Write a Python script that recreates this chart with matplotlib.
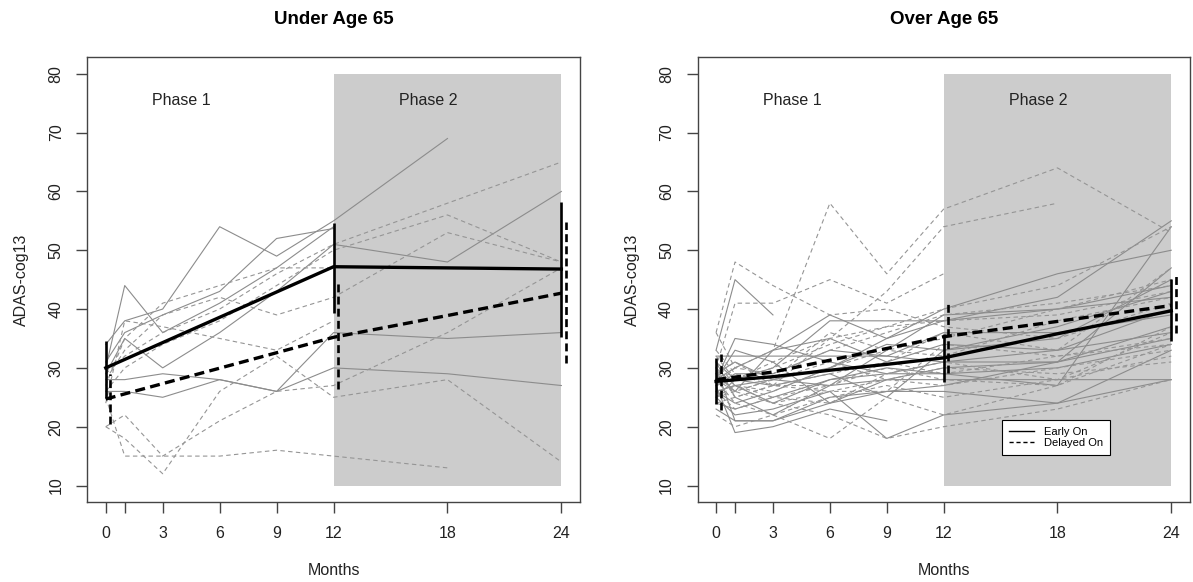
import numpy as np
import matplotlib.pyplot as plt
from matplotlib.lines import Line2D
from matplotlib.patches import Rectangle

plt.rcParams['font.family'] = ['Liberation Sans', 'DejaVu Sans']

nan = np.nan
months = [0, 1, 3, 6, 9, 12, 18, 24]
tick_labels = ['0', '', '3', '6', '9', '12', '18', '24']

# individual subjects, one row per subject, values at each visit in `months`
under_early = [
    [30, 44, 36, 41, 47, 54, nan, nan],
    [34, 38, 40, 54, 49, 55, 69, nan],
    [31, 36, 39, 43, 52, 53.7, nan, nan],
    [29, 35, 30, 36, 43, 51, 48, 60],
    [26, 26, 25, 28, 26, 30, 29, 27],
    [28, 28, 29, 28, 26, 36, 35, 36],
]
under_delayed = [
    [25, 15, 15, 15, 16, 15, 13, nan],
    [20, 22, 15, 21, 26, 27, 36, 47],
    [20, 18, 12, 26, 32, 25, 28, 14],
    [27, 35, 41, 44, 47, 47, nan, nan],
    [28, 33, 39, 42, 39, 42, 53, 48],
    [26, 30, 34, 38, 44, 50, 56, 48],
    [29, 32, 36, 40, 46, 51, 58, 65],
    [24, 38, 37, 35, 33, 38, nan, nan],
]
over_early = [
    [33, 45, 39, nan, nan, nan, nan, nan],
    [28, 35, 34, 31, 29, 29, 27, 54],
    [32, 32, 32, 32, 32, 31, 31, 35],
    [30, 21, 21, 24, 28, 28, 28, 28],
    [27, 19, 20, 23, 21, nan, nan, nan],
    [25, 22, 23, 26, 18, 22, 24, 28],
    [29, 26, 33, 39, 35, 38, 42, 55],
    [31, 28, 30, 38, 38, 38, 40, 44],
    [26, 24, 26, 30, 35, 40, 46, 50],
    [28, 30, 33, 35, 31, 34, 33, 40],
    [24, 23, 25, 28, 30, 29, 30, 34],
    [30, 27, 28, 27, 28, 30, 31, 47],
    [27, 29, 29, 33, 32, 36, 36, 39],
    [23, 21, 21, 25, 26, 26, 24, 33],
    [29, 31, 28, 30, 34, 33, 37, 43],
    [26, 27, 24, 28, 29, 31, 33, 36],
    [31, 25, 22, 27, 33, 39, 40, 42],
    [28, 33, 31, 24, 26, 27, 31, 37],
    [25, 28, 27, 29, 25, 33, 35, 45],
]
over_delayed = [
    [36, 30, 33, 58, 46, 57, 64, 53],
    [33, 29, 27, 35, 43, 54, 58, nan],
    [36, 48, 44, 39, 40, 37, 35, 41],
    [30, 41, 41, 45, 41, 46, nan, nan],
    [28, 24, 22, 18, 25, 22, 27, 34],
    [25, 27, 24, 22, 18, 20, 23, 28],
    [27, 28, 30, 34, 37, 40, 44, 54],
    [29, 26, 28, 36, 33, 35, 40, 45],
    [24, 25, 27, 26, 28, 30, 29, 31],
    [26, 27, 25, 27, 30, 28, 27, 37],
    [31, 27, 26, 30, 33, 32, 38, 42],
    [22, 20, 22, 25, 27, 25, 28, 32],
    [28, 26, 24, 26, 26, 34, 32, 35],
    [27, 30, 29, 33, 36, 39, 41, 44],
    [30, 25, 27, 29, 31, 29, 32, 34],
    [25, 26, 28, 31, 28, 27, 30, 33],
    [32, 28, 31, 35, 37, 38, 39, 43],
    [26, 23, 25, 24, 29, 31, 28, 36],
    [29, 31, 27, 27, 31, 36, 33, 47],
]

# group means
under_mean_x = [0, 12, 18, 24]
under_early_mean = [30.0, 47.2, 47.0, 46.8]
under_delayed_mean = [24.7, 35.2, 38.9, 42.7]
over_mean_x = [0, 3, 6, 9, 12, 18, 24]
over_early_mean = [27.7, 28.5, 29.6, 30.6, 31.7, 35.8, 39.7]
over_delayed_mean = [28.0, 29.3, 31.3, 33.3, 35.3, 37.9, 40.6]

# error bars (low, high) at 0, 12, 24; delayed bars are drawn slightly to the right
bar_x = [0, 12, 24]
bar_shift = 0.25
under_early_lo = [24.8, 39.3, 35.2]
under_early_hi = [34.6, 54.6, 58.2]
under_delayed_lo = [20.4, 26.4, 30.8]
under_delayed_hi = [28.9, 44.7, 54.8]
over_early_lo = [23.8, 27.6, 34.5]
over_early_hi = [31.6, 35.7, 45.1]
over_delayed_lo = [22.9, 29.2, 36.0]
over_delayed_hi = [32.4, 41.1, 45.7]

grey = '#8c8c8c'
thin_dash = (0, (4, 3))
thick_dash = (0, (3, 1.6))


def draw_panel(ax, title, early, delayed, mx, em, dm, elo, ehi, dlo, dhi):
    ax.add_patch(Rectangle((12, 10), 12, 70, facecolor='#cccccc',
                           edgecolor='none', zorder=0))
    for row in early:
        ax.plot(months, row, color=grey, lw=0.8, zorder=1)
    for row in delayed:
        ax.plot(months, row, color='#959595', lw=0.8, ls=thin_dash, zorder=1)

    ax.plot(mx, em, color='black', lw=2.4, zorder=3)
    ax.plot(mx, dm, color='black', lw=2.4, ls=thick_dash, zorder=3)
    ax.vlines(bar_x, elo, ehi, color='black', lw=1.9, zorder=3)
    ax.vlines(np.array(bar_x) + bar_shift, dlo, dhi, color='black', lw=1.9,
              linestyles=[thick_dash], zorder=3)

    ax.text(4, 75.4, 'Phase 1', ha='center', va='center', fontsize=11.5, color='#222222')
    ax.text(17, 75.4, 'Phase 2', ha='center', va='center', fontsize=11.5, color='#222222')

    ax.set_xlim(-0.97, 24.97)
    ax.set_ylim(7.2, 82.8)
    ax.set_xticks(months)
    ax.set_xticklabels(tick_labels)
    ax.set_yticks(range(10, 81, 10))
    ax.tick_params(axis='both', length=8, width=1, color='#444444',
                   labelsize=11.5, labelcolor='#222222', pad=9)
    ax.tick_params(axis='y', labelrotation=90)
    for lab in ax.get_yticklabels():
        lab.set_va('center')
    for sp in ax.spines.values():
        sp.set_color('#444444')
        sp.set_linewidth(1)
    ax.set_xlabel('Months', fontsize=11.5, color='#222222', labelpad=16)
    ax.set_ylabel('ADAS-cog13', fontsize=11.5, color='#222222', labelpad=14)
    ax.set_title(title, fontsize=13.5, fontweight='bold', pad=24)


fig = plt.figure(figsize=(11.93, 5.82), dpi=100)
ax1 = fig.add_axes([0.0732, 0.1375, 0.4128, 0.764])
ax2 = fig.add_axes([0.5848, 0.1375, 0.4124, 0.764])

draw_panel(ax1, 'Under Age 65', under_early, under_delayed, under_mean_x,
           under_early_mean, under_delayed_mean, under_early_lo, under_early_hi,
           under_delayed_lo, under_delayed_hi)
draw_panel(ax2, 'Over Age 65', over_early, over_delayed, over_mean_x,
           over_early_mean, over_delayed_mean, over_early_lo, over_early_hi,
           over_delayed_lo, over_delayed_hi)

handles = [Line2D([], [], color='black', lw=1),
           Line2D([], [], color='black', lw=1, ls=(0, (3, 2)))]
leg = ax2.legend(handles, ['Early On', 'Delayed On'], loc='upper left',
                 bbox_to_anchor=(0.6185, 0.1844), fontsize=8, fancybox=False,
                 edgecolor='black', framealpha=1, handlelength=2.3,
                 borderpad=0.6, labelspacing=0.15, handletextpad=0.9,
                 borderaxespad=0)
leg.get_frame().set_linewidth(0.8)

fig.savefig('out.png', dpi=100)
